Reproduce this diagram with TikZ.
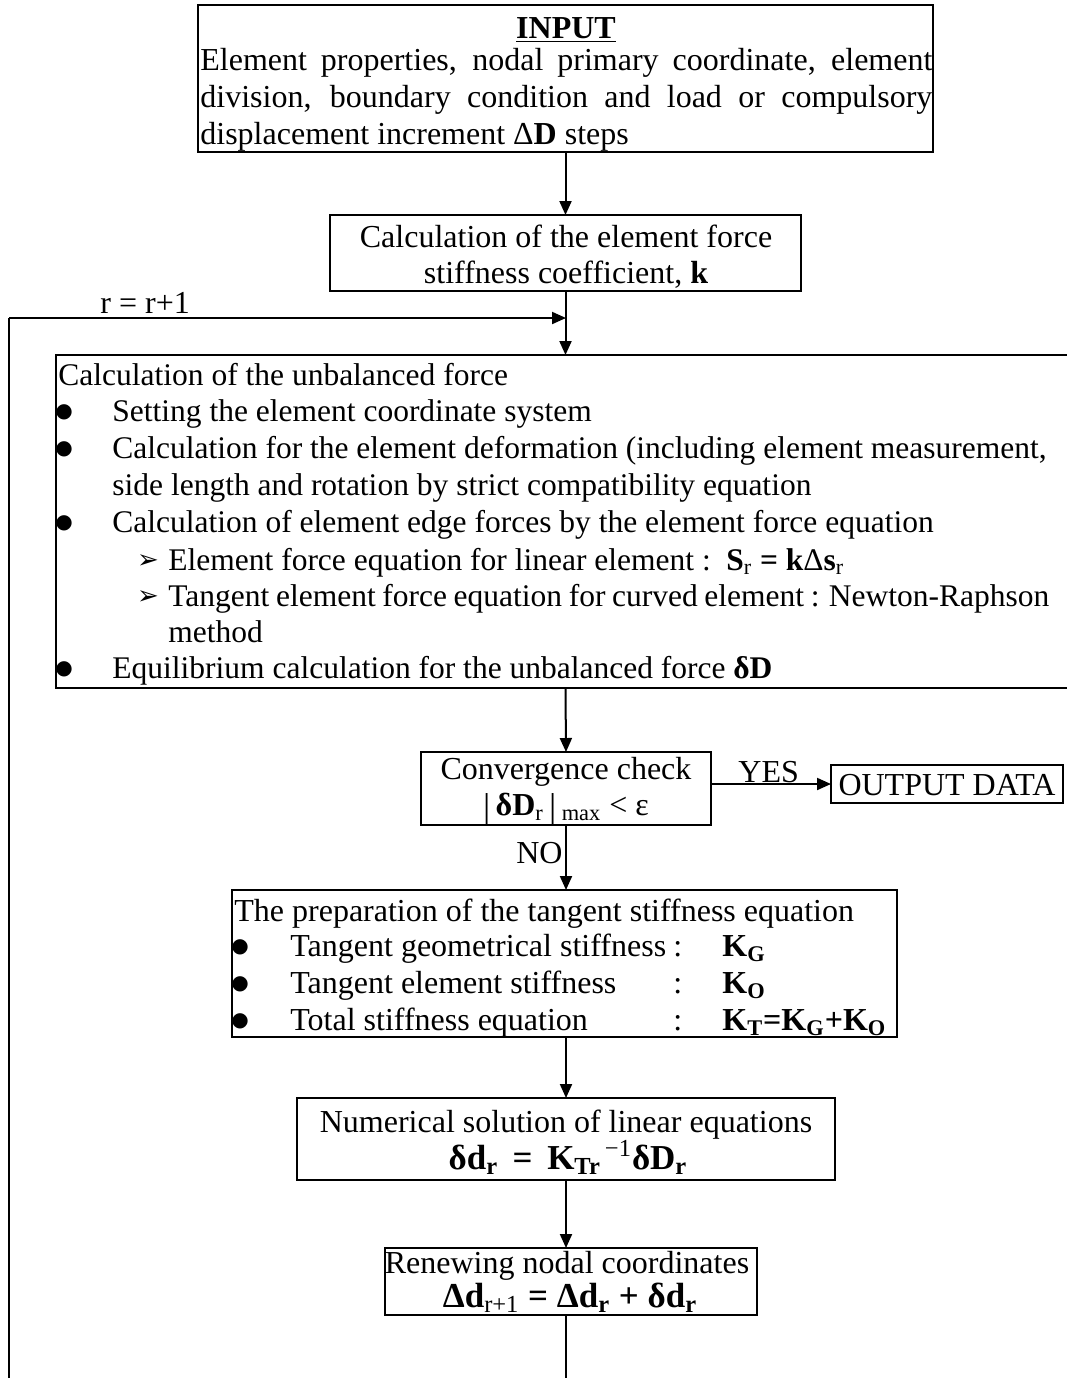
\documentclass[tikz,border=0pt]{standalone}
\usepackage{fontspec}
\setmainfont{Liberation Serif}
\newfontfamily\symfont{DejaVu Sans}
\usetikzlibrary{arrows.meta,fit}

\newcommand{\lowsub}[1]{\textsubscript{#1}}
\newcommand{\bigbar}{\raisebox{-1.5pt}{\fontsize{18}{18}\selectfont|}}

\begin{document}
\begin{tikzpicture}[x=0.5pt,y=-0.5pt,
  box/.style={draw,line width=0.75pt,inner sep=0pt,outer sep=0pt},
  flow/.style={draw,line width=1pt,-{Triangle[length=7pt,width=6pt]}},
  plain/.style={draw,line width=0.75pt},
  txt/.style={anchor=base west,inner sep=0pt,font=\fontsize{16}{18.5}\selectfont},
  ntxt/.style={anchor=base west,inner sep=0pt,font=\fontsize{15.75}{18.5}\selectfont},
  ctr/.style={anchor=base,inner sep=0pt,font=\fontsize{16}{18.5}\selectfont},
  eqn/.style={anchor=base,inner sep=0pt,font=\fontsize{17.5}{20}\selectfont},
  dot/.style={anchor=center,inner sep=0pt,font=\symfont\fontsize{10}{10}\selectfont},
  arr/.style={anchor=center,inner sep=0pt,font=\symfont\fontsize{13}{13}\selectfont},
]
\useasboundingbox (0,0) rectangle (1067,1378);

% process boxes
\node[box,fit={(198,5)(933,152)}] (input) {};
\node[box,fit={(330,215)(801,291)}] (calc) {};
\node[box,fit={(56,355)(1072,688)}] (unbal) {};
\node[box,fit={(421,752)(711,825)}] (conv) {};
\node[box,fit={(831,765)(1063,803)}] (out) {};
\node[box,fit={(232,890)(897,1037)}] (prep) {};
\node[box,fit={(297,1098)(835,1180)}] (solve) {};
\node[box,fit={(385,1248)(757,1315)}] (renew) {};

% input data
\node[ctr] (inhead) at (566,38) {\textbf{\underline{INPUT}}};
\node[txt] (intext) at (200,70) {\parbox[t]{366pt}{\fontsize{16}{18.5}\selectfont
  \hyphenpenalty=10000 \exhyphenpenalty=10000 \emergencystretch=2em
  Element properties, nodal primary coordinate, element division, boundary condition and load or compulsory displacement increment Δ\textbf{D} steps}};

% stiffness coefficient
\node[ctr] (calc1) at (566,247) {Calculation of the element force};
\node[ctr] (calc2) at (566,283) {stiffness coefficient, \textbf{k}};

% iteration counter
\node[txt] (iter) at (100,313) {r = r+1};

% unbalanced force
\node[ntxt] (ub0) at (58,385) {Calculation of the unbalanced force};
\node[dot] (ubd1) at (64,412) {●};
\node[ntxt] (ub1) at (112,421) {Setting the element coordinate system};
\node[dot] (ubd2) at (64,449) {●};
\node[ntxt] (ub2) at (112,458) {Calculation for the element deformation (including element measurement,};
\node[ntxt] (ub3) at (112,495) {side length and rotation by strict compatibility equation};
\node[dot] (ubd3) at (64,523) {●};
\node[ntxt] (ub4) at (112,532) {Calculation of element edge forces by the element force equation};
\node[arr] (uba1) at (148,562) {➢};
\node[ntxt] (ub5) at (168,570) {Element force equation for linear element :\ \ \textbf{S}\lowsub{r} \textbf{=} \textbf{k}Δ\textbf{s}\lowsub{r}};
\node[arr] (uba2) at (148,598) {➢};
\node[ntxt] (ub6) at (168,606) {\spaceskip=0.21em plus 0.1em minus 0.05em Tangent element force equation for curved element : Newton-Raphson};
\node[ntxt] (ub7) at (168,642) {method};
\node[dot] (ubd4) at (64,669) {●};
\node[ntxt] (ub8) at (112,678) {Equilibrium calculation for the unbalanced force \textbf{δD}};

% convergence test
\node[ctr] (conv1) at (566,779) {Convergence check};
\node[ctr] (conv2) at (566,815) {\bigbar\,\textbf{δD}\lowsub{r}\,\bigbar\,\lowsub{max} < ε};
\node[txt] (yes) at (738,782) {YES};
\node[ctr] (outt) at (947,795) {OUTPUT DATA};
\node[anchor=base east,inner sep=0pt,font=\fontsize{16}{18.5}\selectfont] (no) at (563,863) {NO};

% tangent stiffness
\node[txt] (pr0) at (234,921) {The preparation of the tangent stiffness equation};
\node[dot] (prd1) at (240,947) {●};
\node[txt] (pr1) at (290,956) {Tangent geometrical stiffness};
\node[txt] (prc1) at (673,956) {:};
\node[txt] (prk1) at (722,956) {\textbf{K\lowsub{G}}};
\node[dot] (prd2) at (240,984) {●};
\node[txt] (pr2) at (290,993) {Tangent element stiffness};
\node[txt] (prc2) at (673,993) {:};
\node[txt] (prk2) at (722,993) {\textbf{K\lowsub{O}}};
\node[dot] (prd3) at (240,1021) {●};
\node[txt] (pr3) at (290,1030) {Total stiffness equation};
\node[txt] (prc3) at (673,1030) {:};
\node[txt] (prk3) at (722,1030) {\textbf{K\lowsub{T}=K\lowsub{G}+K\lowsub{O}}};

% linear solution
\node[ctr] (so1) at (566,1132) {Numerical solution of linear equations};
\node[eqn] (so2) at (568,1169) {\textbf{δd\lowsub{r}\, =\, K\lowsub{Tr}}\textsuperscript{\,−1}\textbf{δD\lowsub{r}}};

% coordinate update
\node[ctr] (re1) at (567,1273) {Renewing nodal coordinates};
\node[eqn] (re2) at (570,1307) {\textbf{Δd}\lowsub{r+1} \textbf{= Δd\lowsub{r} + δd\lowsub{r}}};

% connectors
\coordinate (join) at (566,318);
\coordinate (loopR) at (566,1400);
\coordinate (loopL) at (9,1400);
\coordinate (loopT) at (9,318);

\draw[flow] (input.south) -- (calc.north);
\draw[flow] (calc.south) -- (calc.south |- unbal.north);
\draw[flow] (calc.south |- unbal.south) -- (conv.north);
\draw[flow] (conv.east |- out.west) -- (out.west);
\draw[flow] (conv.south) -- (conv.south |- prep.north);
\draw[flow] (solve.north |- prep.south) -- (solve.north);
\draw[flow] (solve.south) -- (solve.south |- renew.north);
\draw[plain] (solve.south |- renew.south) -- (loopR) -- (loopL) -- (loopT);
\draw[flow] (loopT) -- (join);
\end{tikzpicture}
\end{document}
